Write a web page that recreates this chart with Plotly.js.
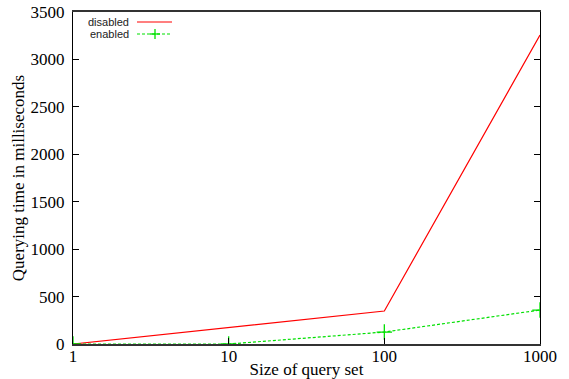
<!DOCTYPE html>
<html>
<head>
<meta charset="utf-8">
<script src="https://cdn.plot.ly/plotly-3.0.1.min.js"></script>
<style>html,body{margin:0;padding:0;background:#fff;}#chart{width:569px;height:379px;}</style>
</head>
<body>
<div id="chart"></div>
<script>
var querySizes = [1, 10, 100, 1000];
var disabledMs = [0, 175, 348, 3257];
var enabledMs = [0, 0, 126, 358];
var xTickVals = [1, 10, 100, 1000];
var xTickText = ['1', '10', '100', '1000'];
var yTickVals = [0, 500, 1000, 1500, 2000, 2500, 3000, 3500];
var seriesNames = ['disabled', 'enabled'];

var red = '#ff0000', green = '#00e000';

var traces = [
  {x: querySizes, y: disabledMs, name: seriesNames[0], mode: 'lines',
   line: {color: red, width: 1.2}, showlegend: false},
  {x: querySizes, y: enabledMs, name: seriesNames[1], mode: 'lines+markers',
   line: {color: green, width: 1.2, dash: '3px,2px'},
   marker: {symbol: 'cross-thin-open', size: 11, color: green, line: {color: green, width: 1.3}},
   showlegend: false}
];

function serif(){ return {family: 'Liberation Serif', size: 17, color: '#000'}; }
function sans(){ return {family: 'Liberation Sans', size: 11, color: '#222'}; }
var L = 73, R = 540, T = 12, B = 344;
function px(x){ return (x - L) / (R - L); }
function py(y){ return (B - y) / (B - T); }

var layout = {
  width: 569, height: 379,
  margin: {l: L, r: 569 - R, t: T, b: 379 - B},
  paper_bgcolor: '#fff', plot_bgcolor: '#fff',
  font: serif(),
  showlegend: false,
  xaxis: {
    type: 'log', range: [0, 3],
    tickvals: xTickVals, ticktext: xTickText,
    ticks: 'inside', ticklen: 6, tickcolor: '#000', tickwidth: 1,
    showgrid: false, zeroline: false,
    showline: true, linecolor: '#333', linewidth: 2, mirror: true,
    tickfont: serif(), ticklabelstandoff: -4,
    title: {text: 'Size of query set', font: serif(), standoff: 0}
  },
  yaxis: {
    range: [0, 3500], tickvals: yTickVals,
    ticks: 'inside', ticklen: 6, tickcolor: '#000', tickwidth: 1,
    showgrid: false, zeroline: false,
    showline: true, linecolor: '#000', linewidth: 1, mirror: 'ticks',
    tickfont: serif(), ticklabelstandoff: 4,
    title: {text: 'Querying time in milliseconds', font: serif(), standoff: 1}
  },
  annotations: [
    {xref: 'paper', yref: 'paper', x: px(131), y: py(22), xanchor: 'right', yanchor: 'middle',
     text: seriesNames[0], showarrow: false, font: sans()},
    {xref: 'paper', yref: 'paper', x: px(131), y: py(34), xanchor: 'right', yanchor: 'middle',
     text: seriesNames[1], showarrow: false, font: sans()}
  ],
  shapes: [
    {type: 'line', xref: 'paper', yref: 'paper', x0: px(137), x1: px(172), y0: py(22), y1: py(22),
     line: {color: red, width: 1.2}},
    {type: 'line', xref: 'paper', yref: 'paper', x0: px(137), x1: px(172), y0: py(34), y1: py(34),
     line: {color: green, width: 1.2, dash: '3px,2px'}},
    {type: 'line', xref: 'paper', yref: 'paper', x0: px(150), x1: px(160), y0: py(34), y1: py(34),
     line: {color: green, width: 1.3}},
    {type: 'line', xref: 'paper', yref: 'paper', x0: px(155), x1: px(155), y0: py(29), y1: py(39),
     line: {color: green, width: 1.3}}
  ]
};

Plotly.newPlot('chart', traces, layout, {staticPlot: true, displayModeBar: false});
</script>
</body>
</html>
